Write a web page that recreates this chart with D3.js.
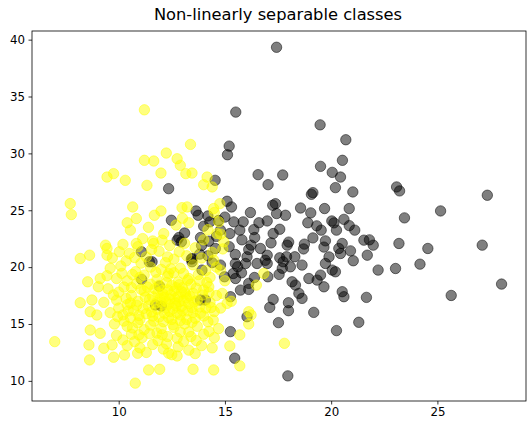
<!DOCTYPE html>
<html>
<head>
<meta charset="utf-8">
<script src="https://cdn.jsdelivr.net/npm/d3@7"></script>
<style>
  html, body { margin: 0; padding: 0; background: #fff; }
  svg text { font-family: "DejaVu Sans", sans-serif; fill: #000; }
</style>
</head>
<body>
<svg id="chart" width="530" height="424"></svg>
<script>
// Mean radius (x) vs mean texture (y); class 0 = malignant (black), class 1 = benign (yellow)
const malignant = [
  [17.43,39.33],[15.51,33.63],[19.48,32.51],[20.69,31.2],[15.2,30.64],[15.12,29.88],[20.53,29.39],
  [19.5,28.86],[16.56,28.13],[17.72,28.1],[20.05,28.33],[20.44,27.92],[14.54,27.63],[12.35,26.9],
  [17.03,27.25],[20.2,26.99],[21.02,26.61],[19.14,26.55],[19.07,26.4],[23.08,27.05],[23.22,26.7],
  [27.35,26.32],[25.15,24.94],[23.45,24.33],[20.85,25.15],[19.69,25.15],[18.56,25.2],[19.04,24.77],
  [17.38,25.58],[17.25,25.44],[17.85,24.56],[15.1,25.79],[15.31,25.29],[13.64,24.94],[13.74,24.56],
  [12.48,24.12],[16.99,24.06],[17.43,24.71],[15.42,23.98],[15.86,23.98],[16.36,23.3],[15.7,23.25],
  [14.29,23.98],[14.79,23.25],[20.03,24.06],[20.13,23.89],[20.25,23.25],[20.85,23.65],[21.11,23.25],
  [19.32,23.63],[19.53,23.25],[17.58,23.33],[17.27,22.95],[15.23,22.95],[12.83,22.6],[12.75,22.37],
  [13.85,22.6],[19.14,22.57],[19.73,22.31],[18.74,22.02],[17.93,21.93],[17.17,22.13],[20.52,22.08],
  [21.54,22.37],[21.98,21.93],[23.19,22.08],[24.55,21.64],[27.11,21.93],[16.23,21.93],[16.67,21.64],
  [16.12,21.55],[14.24,22.28],[14.55,21.64],[13.81,21.14],[11.07,21.35],[19.66,21.76],[20.36,21.64],
  [20.44,21.2],[20.91,21.43],[15.49,21.11],[16.04,20.91],[16.99,21.05],[17.58,20.82],[17.9,20.91],
  [18.29,20.91],[21.7,21.05],[21.04,20.56],[13.42,20.7],[13.45,20.47],[13.92,19.74],[11.44,20.47],
  [14.79,20.18],[15.49,20.32],[15.6,20.03],[15.97,20.32],[16.51,20.32],[16.99,20.32],[17.74,20.47],
  [18.08,20.03],[18.63,20.18],[19.73,20.32],[20.05,19.74],[20.2,19.59],[22.21,19.74],[23.03,19.88],
  [24.18,20.26],[14.98,19.15],[15.39,19.44],[15.78,19.5],[16.39,19.09],[17.02,19.15],[17.55,19.36],
  [18.16,18.71],[18.32,18.42],[18.95,19.0],[19.34,18.86],[19.5,19.3],[19.66,18.27],[11.08,18.92],
  [16.12,18.57],[15.73,17.98],[16.12,18.04],[28.02,18.51],[20.52,17.84],[20.6,17.4],[21.66,17.34],
  [25.65,17.51],[15.26,17.4],[13.85,17.11],[11.73,16.67],[18.48,17.69],[18.63,17.25],[17.27,17.16],
  [17.11,16.46],[17.99,16.87],[17.99,16.17],[19.18,16.02],[17.52,15.12],[21.3,15.15],[16.04,15.64],
  [15.26,14.33],[20.25,14.42],[15.46,11.99],[17.96,10.44],
  [11.57,20.47],[11.92,18.33],[12.01,16.58],[12.95,22.22],[13.45,20.76],[14.08,17.11],
  [14.2,24.5],[14.6,22.7],[15.0,24.4],[16.4,22.6],[18.0,22.2],[18.7,21.6],[19.9,20.9],
  [15.2,21.8],[16.6,23.9],[17.7,19.9],[18.9,23.9],[21.8,22.4],[20.6,24.2],[14.2,21.0],[13.1,23.0],
  [14.0,23.6],[14.4,20.4],[15.8,22.4],[16.9,20.6],[15.5,19.0],[14.7,24.1],[16.2,24.8],[13.9,21.9]
];

const benign = [
  [11.21,33.83],[13.38,30.79],[12.24,30.03],[11.21,29.39],[11.65,29.33],[12.75,29.53],[12.9,28.95],
  [9.45,27.92],[9.76,28.22],[10.31,27.63],[11.99,28.27],[13.16,28.22],[13.45,28.27],[11.33,27.19],
  [14.16,27.92],[14.0,27.25],[14.4,27.05],[7.72,25.59],[7.77,24.62],[10.66,25.29],[10.83,24.27],
  [11.99,24.94],[11.68,24.56],[12.98,25.23],[13.22,25.29],[14.47,25.15],[14.76,25.58],[10.55,23.25],
  [11.13,22.51],[10.83,22.08],[9.38,21.93],[9.45,21.64],[10.03,21.35],[8.19,20.76],[8.63,21.05],
  [9.45,21.05],[12.12,22.95],[12.04,22.37],[11.65,22.08],[14.71,23.98],[14.63,22.95],[14.95,22.22],
  [14.47,20.61],[8.54,18.71],[9.13,19.0],[9.04,18.27],[8.19,16.87],[8.74,17.11],[8.66,16.08],
  [8.97,15.79],[8.66,14.47],[9.13,14.18],[6.99,13.45],[8.6,13.16],[9.3,12.87],[9.69,13.16],
  [9.76,12.08],[8.63,11.84],[10.27,12.28],[10.89,12.43],[10.78,9.8],[11.41,10.96],[11.93,11.02],
  [12.75,12.19],[12.35,12.43],[13.5,11.02],[14.47,10.96],[15.7,11.32],[15.7,14.04],[15.23,13.07],
  [16.12,15.0],[16.23,15.79],[16.12,16.08],[17.8,13.3],[16.48,18.42],[16.83,19.44],[15.1,16.81],
  [14.87,17.69],[14.24,18.27],[14.79,19.74],
  [10.2,22.0],[10.9,21.8],[11.6,22.3],[12.4,21.9],[13.1,22.1],[13.6,21.7],[14.0,22.4],
  [9.7,20.8],[10.5,21.2],[11.3,20.9],[11.9,21.4],[12.6,20.7],[13.2,21.0],[13.9,20.8],[14.4,21.3],[12.2,20.4],
  [9.6,19.9],[10.1,20.1],[10.8,19.6],[11.5,20.0],[12.0,19.8],[12.9,19.9],[13.5,20.2],[14.1,19.7],[14.6,20.0],[11.2,19.3],
  [9.9,19.0],[10.4,18.8],[11.0,19.1],[11.8,18.9],[12.3,19.2],[12.8,18.7],[13.3,19.0],[13.8,18.8],[14.3,19.1],[12.5,18.4],[11.5,18.5],
  [9.5,18.1],[10.0,17.8],[10.6,18.2],[11.2,17.9],[11.7,18.1],[12.1,17.6],[12.6,17.9],[13.0,18.2],[13.5,17.7],[14.0,18.0],[14.6,17.5],[12.4,17.2],[13.2,17.3],
  [9.3,16.9],[9.9,17.1],[10.4,16.7],[10.9,17.0],[11.4,16.6],[12.0,16.9],[12.7,16.6],[13.3,16.8],[13.8,16.5],[14.3,16.9],[14.8,16.4],[11.8,16.3],
  [9.6,16.0],[10.2,15.8],[10.7,16.2],[11.3,15.9],[11.9,15.6],[12.4,16.1],[12.9,15.8],[13.5,16.0],[14.0,15.7],[14.5,16.1],[11.0,15.4],[13.2,15.4],
  [9.8,15.0],[10.4,14.8],[10.9,15.1],[11.5,14.9],[12.1,15.2],[12.6,14.7],[13.1,15.0],[13.7,14.8],[14.2,15.2],[14.7,14.6],[11.2,14.5],
  [9.9,14.0],[10.6,14.1],[11.1,13.8],[11.8,14.2],[12.3,13.9],[12.9,14.3],[13.4,13.9],[14.0,14.1],[14.5,13.8],[10.2,13.6],
  [10.4,13.1],[11.0,12.9],[11.6,13.2],[12.1,12.8],[12.8,13.0],[13.3,12.7],[13.9,13.1],[14.4,12.9],[11.3,12.5],[12.5,12.3],[13.6,12.4],
  [12.3,18.0],[12.8,17.4],[13.0,16.2],[12.2,16.4],[13.4,18.5],[12.6,19.5],[11.6,17.4],[13.7,17.1],[12.9,15.3],
  [14.2,23.3],[14.9,21.6],[15.0,18.8],[15.3,17.0],[14.5,24.8],[14.8,22.9],[13.3,23.9],[13.0,24.3],
  [12.7,23.7],[10.4,23.9],[11.4,23.5],[12.2,17.0],[12.7,18.2],[13.1,17.8],[11.9,18.4],[12.5,15.4],
  [13.6,15.5],[11.6,15.7],[10.6,17.5],[14.1,16.4],[12.0,14.6],[13.3,14.3],[10.0,16.4],[12.3,20.9],
  // denser core
  [12.45,17.55],[12.65,17.25],[12.85,16.95],[12.35,16.75],[13.05,17.05],[12.55,16.35],[12.95,16.55],
  [13.25,16.15],[12.75,15.95],[12.15,15.95],[13.45,16.45],[13.15,17.65],[12.85,18.45],[12.25,18.65],
  [11.95,17.25],[11.75,16.85],[12.05,17.95],[13.65,18.15],[13.35,17.45],[11.45,17.15],[11.15,16.35],
  [10.85,16.65],[10.55,15.55],[11.65,15.25],[12.35,15.55],[13.85,15.95],[13.95,17.55],[14.25,17.75],
  [11.35,18.25],[10.85,18.55],[10.25,18.25],[10.65,19.35],[11.75,19.55],[12.45,19.85],[13.05,19.45],
  [13.75,19.35],[11.05,20.35],[10.35,20.55],[12.85,21.35],[11.55,21.55],[10.75,20.85],[12.05,14.05],
  [11.45,14.15],[12.75,13.75],[13.05,13.45],[11.85,13.55],[10.75,13.45],[12.25,13.25],[13.65,13.55],
  [14.25,14.35],[10.25,15.25],[9.95,15.65],[10.45,16.15],[13.45,15.15],[12.55,14.95],[14.15,18.65],
  [12.65,16.85],[12.15,17.35],[13.55,16.95],[12.95,17.85],[11.85,17.75],[11.55,16.05],[13.25,18.85],
  [12.35,19.45],[11.25,17.35],[14.35,16.45],[14.45,15.35],[9.75,17.55],[10.15,19.45],[9.45,19.25],
  [10.65,14.65],[10.95,14.05],[10.35,17.25],[10.95,15.75],[10.55,16.85],[11.05,18.05]
];

const xTicks = [10, 15, 20, 25];
const yTicks = [10, 15, 20, 25, 30, 35, 40];
const title = "Non-linearly separable classes";

const W = 530, H = 424;
const plot = { left: 32, right: 526, top: 31, bottom: 401 };

const svg = d3.select("#chart");

const x = d3.scaleLinear().domain([5.92, 29.17]).range([plot.left, plot.right]);
const y = d3.scaleLinear().domain([8.23, 40.76]).range([plot.bottom, plot.top]);

// markers: face and edge share the colour, both half transparent
const marks = svg.append("g");
function drawSeries(data, color) {
  marks.selectAll(null)
    .data(data)
    .enter()
    .append("circle")
    .attr("cx", d => x(d[0]))
    .attr("cy", d => y(d[1]))
    .attr("r", 5.2)
    .attr("fill", color)
    .attr("fill-opacity", 0.5)
    .attr("stroke", color)
    .attr("stroke-opacity", 0.5)
    .attr("stroke-width", 1);
}
drawSeries(malignant, "#000000");
drawSeries(benign, "#ffff00");

// axes
const xAxis = d3.axisBottom(x).tickValues(xTicks).tickSize(3.5).tickPadding(3.5);
const yAxis = d3.axisLeft(y).tickValues(yTicks).tickSize(3.5).tickPadding(3.5);

const gx = svg.append("g").attr("transform", `translate(0,${plot.bottom})`).call(xAxis);
const gy = svg.append("g").attr("transform", `translate(${plot.left},0)`).call(yAxis);
[gx, gy].forEach(g => {
  g.select(".domain").remove();
  g.selectAll("text").style("font-size", "11.8px").attr("fill", "#000");
  g.selectAll("line").attr("stroke", "#000").attr("stroke-width", 0.8);
});

// frame
svg.append("rect")
  .attr("x", plot.left).attr("y", plot.top)
  .attr("width", plot.right - plot.left).attr("height", plot.bottom - plot.top)
  .attr("fill", "none").attr("stroke", "#000").attr("stroke-width", 0.8);

svg.append("text")
  .attr("x", (plot.left + plot.right) / 2 - 1)
  .attr("y", 20)
  .attr("text-anchor", "middle")
  .style("font-size", "16.3px")
  .text(title);
</script>
</body>
</html>
